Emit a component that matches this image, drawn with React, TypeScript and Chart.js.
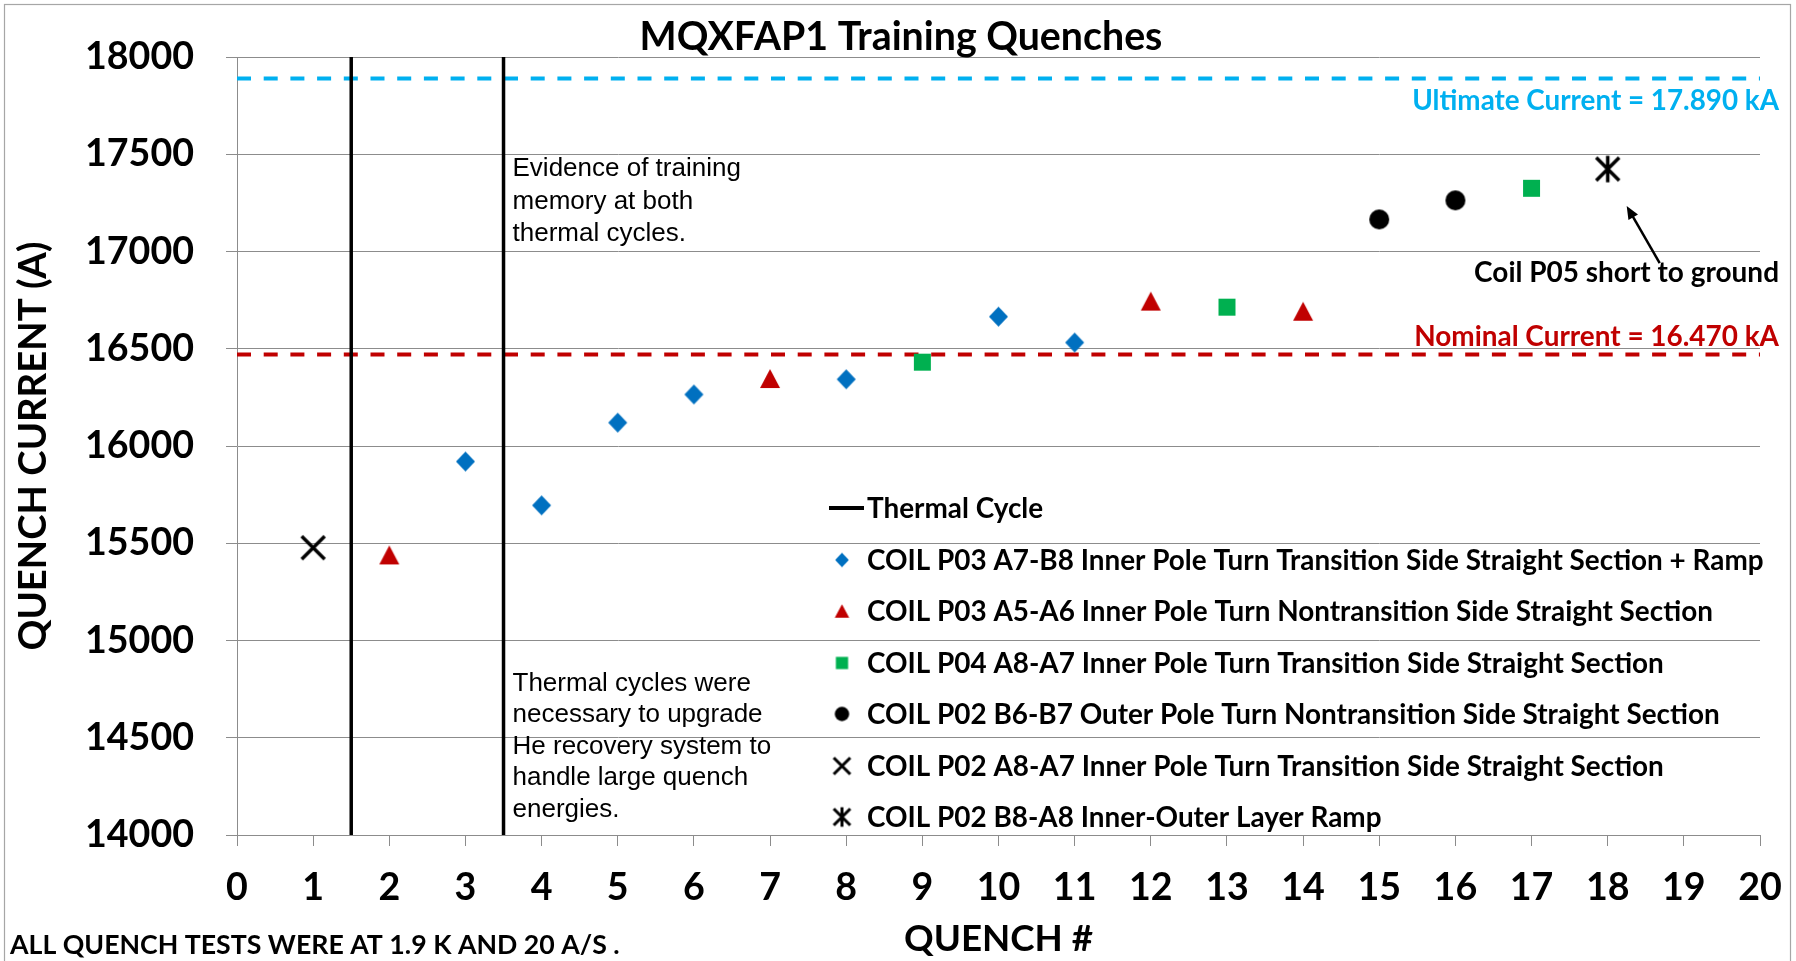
import React, { useEffect, useRef } from 'react';
import { Chart, registerables } from 'chart.js';

Chart.register(...registerables);

const WIDTH = 1796;
const HEIGHT = 961;

// ---------------- data ----------------
const chartTitle = 'MQXFAP1 Training Quenches';
const xAxisTitle = 'QUENCH #';
const yAxisTitle = 'QUENCH CURRENT (A)';
const footNote = 'ALL QUENCH TESTS WERE AT 1.9 K AND 20 A/S .';

const xMin = 0;
const xMax = 20;
const xStep = 1;
const yMin = 14000;
const yMax = 18000;
const yStep = 500;

const p03A7B8Quench = [3, 4, 5, 6, 8, 10, 11];
const p03A7B8Current = [15920, 15695, 16120, 16265, 16343, 16665, 16532];
const p03A5A6Quench = [2, 7, 12, 14];
const p03A5A6Current = [15440, 16347, 16745, 16693];
const p04A8A7Quench = [9, 13, 17];
const p04A8A7Current = [16431, 16714, 17325];
const p02B6B7Quench = [15, 16];
const p02B6B7Current = [17165, 17263];
const p02A8A7Quench = [1];
const p02A8A7Current = [15477];
const p02B8A8Quench = [18];
const p02B8A8Current = [17424];

const thermalCycleAt = [1.5, 3.5];
const ultimateCurrent = 17890;
const nominalCurrent = 16470;

const thermalLabel = 'Thermal Cycle';
const seriesLabels = [
  'COIL P03 A7-B8 Inner Pole Turn Transition Side Straight Section + Ramp',
  'COIL P03 A5-A6 Inner Pole Turn Nontransition Side Straight Section',
  'COIL P04 A8-A7 Inner Pole Turn Transition Side Straight Section',
  'COIL P02 B6-B7 Outer Pole Turn Nontransition Side Straight Section',
  'COIL P02 A8-A7 Inner Pole Turn Transition Side Straight Section',
  'COIL P02 B8-A8 Inner-Outer Layer Ramp',
];
const ultimateLabel = 'Ultimate Current = 17.890 kA';
const nominalLabel = 'Nominal Current = 16.470 kA';
const shortLabel = 'Coil P05 short to ground';
const memoryNote = ['Evidence of training', 'memory at both', 'thermal cycles.'];
const upgradeNote = [
  'Thermal cycles were',
  'necessary to upgrade',
  'He recovery system to',
  'handle large quench',
  'energies.',
];

// ---------------- styles ----------------
const CAL = 'Lato, "Noto Sans", sans-serif';
const ARI = '"Liberation Sans", Arial, sans-serif';
const BLUE = '#0070C0';
const RED = '#C00000';
const GREEN = '#00B050';
const BLACK = '#000000';
const CYAN = '#00B0F0';
const GRID = '#8c8c8c';

const measureCtx = document.createElement('canvas').getContext('2d') as CanvasRenderingContext2D;
function fit(text: string, weight: string, family: string, target: number): number {
  measureCtx.font = `${weight} 100px ${family}`;
  return (100 * target) / measureCtx.measureText(text).width;
}

type Shape = 'diamond' | 'triangle' | 'square' | 'circle' | 'x' | 'star';

function makeMarker(shape: Shape, w: number, h: number, color: string, lw = 0): HTMLCanvasElement {
  const pad = Math.ceil(lw) + 1;
  const c = document.createElement('canvas');
  c.width = Math.ceil(w + 2 * pad);
  c.height = Math.ceil(h + 2 * pad);
  const ctx = c.getContext('2d') as CanvasRenderingContext2D;
  const cx = c.width / 2;
  const cy = c.height / 2;
  ctx.fillStyle = color;
  ctx.strokeStyle = color;
  ctx.lineWidth = lw;
  ctx.beginPath();
  switch (shape) {
    case 'diamond':
      ctx.moveTo(cx, cy - h / 2);
      ctx.lineTo(cx + w / 2, cy);
      ctx.lineTo(cx, cy + h / 2);
      ctx.lineTo(cx - w / 2, cy);
      ctx.closePath();
      ctx.fill();
      break;
    case 'triangle':
      ctx.moveTo(cx, cy - h / 2);
      ctx.lineTo(cx + w / 2, cy + h / 2);
      ctx.lineTo(cx - w / 2, cy + h / 2);
      ctx.closePath();
      ctx.fill();
      break;
    case 'square':
      ctx.fillRect(cx - w / 2, cy - h / 2, w, h);
      break;
    case 'circle':
      ctx.ellipse(cx, cy, w / 2, h / 2, 0, 0, Math.PI * 2);
      ctx.fill();
      break;
    case 'x':
      ctx.moveTo(cx - w / 2, cy - h / 2);
      ctx.lineTo(cx + w / 2, cy + h / 2);
      ctx.moveTo(cx + w / 2, cy - h / 2);
      ctx.lineTo(cx - w / 2, cy + h / 2);
      ctx.stroke();
      break;
    case 'star':
      ctx.moveTo(cx - w / 2, cy - h / 2);
      ctx.lineTo(cx + w / 2, cy + h / 2);
      ctx.moveTo(cx + w / 2, cy - h / 2);
      ctx.lineTo(cx - w / 2, cy + h / 2);
      ctx.moveTo(cx, cy - h / 2 - lw / 2);
      ctx.lineTo(cx, cy + h / 2 + lw / 2);
      ctx.stroke();
      break;
  }
  return c;
}

const seriesShapes: Shape[] = ['diamond', 'triangle', 'square', 'circle', 'x', 'star'];
const seriesColors = [BLUE, RED, GREEN, BLACK, BLACK, BLACK];
const markerDims: [number, number, number][] = [
  [19, 20, 0],
  [20, 19, 0],
  [17, 17, 0],
  [20, 20, 0],
  [23, 23, 3.5],
  [23, 23, 3.5],
];

function pts(xs: number[], ys: number[]) {
  return xs.map((x, i) => ({ x, y: ys[i] }));
}

export default function App() {
  const ref = useRef<HTMLCanvasElement>(null);

  useEffect(() => {
    const canvas = ref.current as HTMLCanvasElement;

    const chartMarkers = seriesShapes.map((s, i) =>
      makeMarker(s, markerDims[i][0], markerDims[i][1], seriesColors[i], markerDims[i][2])
    );
    const legendMarkers = seriesShapes.map((s, i) =>
      makeMarker(s, markerDims[i][0] * 0.72, markerDims[i][1] * 0.72, seriesColors[i], markerDims[i][2] * 0.85)
    );

    const titleSize = fit(chartTitle, 'bold', CAL, 523);
    const tickSize = fit('18000', 'bold', CAL, 109);
    const yTitleSize = fit(yAxisTitle, 'bold', CAL, 409);
    const xTitleSize = fit(xAxisTitle, 'bold', CAL, 189);
    const legendSize = fit(seriesLabels[0], 'bold', CAL, 897);
    const ultimateSize = fit(ultimateLabel, 'bold', CAL, 367);
    const nominalSize = fit(nominalLabel, 'bold', CAL, 365);
    const shortSize = fit(shortLabel, 'bold', CAL, 305);
    const footSize = fit(footNote, 'bold', CAL, 610);
    const noteSize = 26;

    const padLeft = 42;
    const padRight = 36;
    const plotLeft = 237;
    const plotBottom = 835;

    const seriesData = [
      pts(p03A7B8Quench, p03A7B8Current),
      pts(p03A5A6Quench, p03A5A6Current),
      pts(p04A8A7Quench, p04A8A7Current),
      pts(p02B6B7Quench, p02B6B7Current),
      pts(p02A8A7Quench, p02A8A7Current),
      pts(p02B8A8Quench, p02B8A8Current),
    ];

    const markerSets = seriesData.map((data, i) => ({
      type: 'scatter' as const,
      label: seriesLabels[i],
      data,
      pointStyle: chartMarkers[i],
      pointRadius: 10,
      backgroundColor: seriesColors[i],
      borderColor: seriesColors[i],
      showLine: false,
    }));

    const thermalSets = thermalCycleAt.map((tc) => ({
      type: 'scatter' as const,
      label: thermalLabel,
      data: [
        { x: tc, y: yMin },
        { x: tc, y: yMax },
      ],
      showLine: true,
      borderColor: BLACK,
      borderWidth: 3.5,
      pointRadius: 0,
    }));

    const limitSets = [
      { value: ultimateCurrent, color: CYAN, label: ultimateLabel },
      { value: nominalCurrent, color: RED, label: nominalLabel },
    ].map((l) => ({
      type: 'scatter' as const,
      label: l.label,
      data: [
        { x: xMin, y: l.value },
        { x: xMax, y: l.value },
      ],
      showLine: true,
      borderColor: l.color,
      borderWidth: 4,
      borderDash: [14, 12.7],
      pointRadius: 0,
    }));

    const extras = {
      id: 'extras',
      afterDraw(chart: any) {
        const ctx: CanvasRenderingContext2D = chart.ctx;
        const xs = chart.scales.x;
        const ys = chart.scales.y;
        const area = chart.chartArea;
        ctx.save();

        // outer frame
        ctx.strokeStyle = '#a6a6a6';
        ctx.lineWidth = 1.2;
        ctx.strokeRect(4.5, 4.5, 1786, 1000);

        // footer
        ctx.fillStyle = BLACK;
        ctx.textAlign = 'left';
        ctx.textBaseline = 'middle';
        ctx.font = `bold ${footSize}px ${CAL}`;
        ctx.fillText(footNote, 10, 945);

        // legend
        const lx = 842;
        const tx = 867;
        const rows = [508, 560, 611, 663, 714, 766, 817];
        ctx.font = `bold ${legendSize}px ${CAL}`;
        ctx.strokeStyle = BLACK;
        ctx.lineWidth = 4;
        ctx.beginPath();
        ctx.moveTo(829, rows[0]);
        ctx.lineTo(864, rows[0]);
        ctx.stroke();
        ctx.fillText(thermalLabel, tx, rows[0] + 1);
        seriesLabels.forEach((lab, i) => {
          const m = legendMarkers[i];
          ctx.drawImage(m, lx - m.width / 2, rows[i + 1] - m.height / 2);
          ctx.fillStyle = BLACK;
          ctx.fillText(lab, tx, rows[i + 1] + 1);
        });

        // limit labels
        const rightEdge = area.right + 19;
        ctx.textAlign = 'right';
        ctx.font = `bold ${ultimateSize}px ${CAL}`;
        ctx.fillStyle = CYAN;
        ctx.fillText(ultimateLabel, rightEdge, ys.getPixelForValue(ultimateCurrent) + 23);
        ctx.font = `bold ${nominalSize}px ${CAL}`;
        ctx.fillStyle = RED;
        ctx.fillText(nominalLabel, rightEdge, ys.getPixelForValue(nominalCurrent) - 18);

        // short-to-ground note + arrow
        const px = xs.getPixelForValue(p02B8A8Quench[0]);
        const py = ys.getPixelForValue(p02B8A8Current[0]);
        ctx.font = `bold ${shortSize}px ${CAL}`;
        ctx.fillStyle = BLACK;
        ctx.fillText(shortLabel, rightEdge, py + 104);
        const hx = px + 19;
        const hy = py + 37;
        const tx2 = px + 52;
        const ty2 = py + 94;
        const ang = Math.atan2(hy - ty2, hx - tx2);
        ctx.strokeStyle = BLACK;
        ctx.lineWidth = 2.5;
        ctx.beginPath();
        ctx.moveTo(tx2, ty2);
        ctx.lineTo(hx - Math.cos(ang) * 8, hy - Math.sin(ang) * 8);
        ctx.stroke();
        ctx.beginPath();
        ctx.moveTo(hx, hy);
        ctx.lineTo(hx - Math.cos(ang) * 13 + Math.sin(ang) * 5.5, hy - Math.sin(ang) * 13 - Math.cos(ang) * 5.5);
        ctx.lineTo(hx - Math.cos(ang) * 13 - Math.sin(ang) * 5.5, hy - Math.sin(ang) * 13 + Math.cos(ang) * 5.5);
        ctx.closePath();
        ctx.fill();

        // notes
        ctx.textAlign = 'left';
        ctx.font = `${noteSize}px ${ARI}`;
        const noteX = xs.getPixelForValue(thermalCycleAt[1]) + 9;
        const memTop = ys.getPixelForValue(17500) + 15;
        memoryNote.forEach((line, i) => ctx.fillText(line, noteX, memTop + i * 32.5));
        const upTop = ys.getPixelForValue(15000) + 43;
        upgradeNote.forEach((line, i) => ctx.fillText(line, noteX, upTop + i * 31.6));

        ctx.restore();
      },
    };

    const chart = new Chart(canvas, {
      type: 'scatter',
      data: {
        datasets: [...markerSets, ...thermalSets, ...limitSets] as any,
      },
      options: {
        responsive: false,
        animation: false,
        events: [],
        layout: { padding: { left: padLeft, right: padRight, top: 0, bottom: 0 } },
        plugins: {
          legend: { display: false },
          tooltip: { enabled: false },
          title: {
            display: true,
            text: chartTitle,
            color: BLACK,
            font: { family: CAL, weight: 'bold', size: titleSize, lineHeight: 1 },
            padding: { top: 37 - titleSize / 2, bottom: 20 - titleSize / 2 },
          },
        },
        scales: {
          x: {
            type: 'linear',
            min: xMin,
            max: xMax,
            ticks: {
              stepSize: xStep,
              color: BLACK,
              font: { family: CAL, weight: 'bold', size: tickSize, lineHeight: 1 },
              padding: 888 - plotBottom - 11 - tickSize / 2,
              maxRotation: 0,
              autoSkip: false,
              callback: (v: any) => String(v),
            },
            grid: { drawOnChartArea: false, drawTicks: true, tickLength: 11, color: GRID, lineWidth: 1 },
            border: { display: true, color: GRID, width: 1 },
            title: {
              display: true,
              text: xAxisTitle,
              color: BLACK,
              font: { family: CAL, weight: 'bold', size: xTitleSize, lineHeight: 1 },
              padding: { top: 0, bottom: HEIGHT - 939 - xTitleSize / 2 },
            },
            afterFit: (s: any) => {
              s.height = HEIGHT - plotBottom;
              s.paddingLeft = 0;
              s.paddingRight = 0;
            },
          },
          y: {
            type: 'linear',
            min: yMin,
            max: yMax,
            ticks: {
              stepSize: yStep,
              color: BLACK,
              font: { family: CAL, weight: 'bold', size: tickSize, lineHeight: 1 },
              padding: 32,
              callback: (v: any) => String(v),
            },
            grid: { drawOnChartArea: true, drawTicks: true, tickLength: 11, color: GRID, lineWidth: 1 },
            border: { display: true, color: GRID, width: 1 },
            title: {
              display: true,
              text: yAxisTitle,
              color: BLACK,
              font: { family: CAL, weight: 'bold', size: yTitleSize, lineHeight: 1 },
              padding: { top: 34 - padLeft - yTitleSize / 2, bottom: 0 },
            },
            afterFit: (s: any) => {
              s.width = plotLeft - padLeft;
            },
          },
        },
      } as any,
      plugins: [extras],
    });

    return () => chart.destroy();
  }, []);

  return (
    <div style={{ position: 'fixed', left: 0, top: 0, width: WIDTH, height: HEIGHT, background: '#ffffff' }}>
      <canvas ref={ref} width={WIDTH} height={HEIGHT} style={{ display: 'block', width: WIDTH, height: HEIGHT }} />
    </div>
  );
}
